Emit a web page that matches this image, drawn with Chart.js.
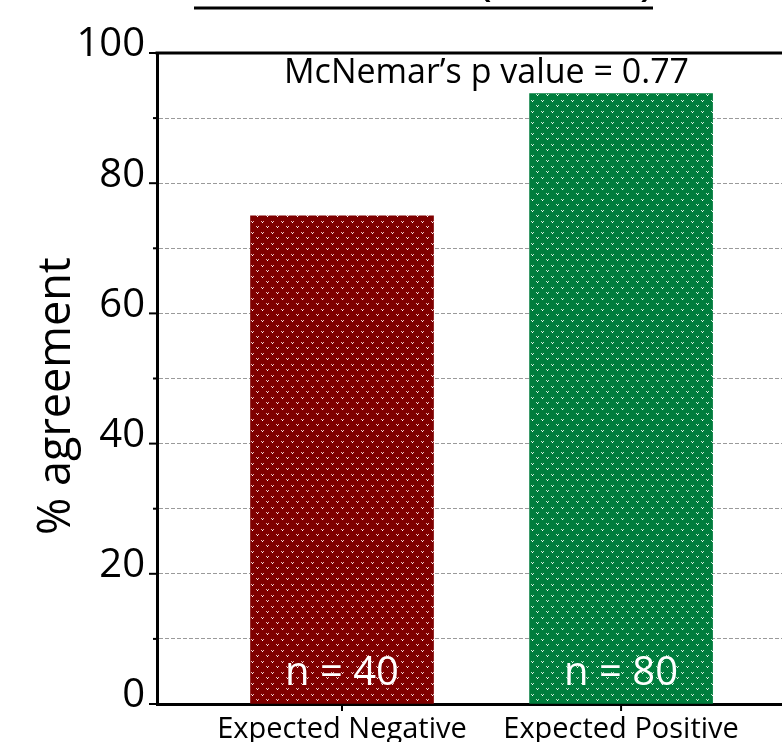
<!DOCTYPE html>
<html>
<head>
<meta charset="utf-8">
<script src="https://cdn.jsdelivr.net/npm/chart.js@4/dist/chart.umd.min.js"></script>
<style>
  html, body { margin: 0; padding: 0; background: #fff; overflow: hidden; }
  #wrap { width: 782px; height: 742px; }
  canvas { display: block; }
</style>
</head>
<body>
<div id="wrap"><canvas id="c" width="782" height="742"></canvas></div>
<script>
// ---- data ----
const categories = ['Expected Negative', 'Expected Positive'];
const categoryPositions = [1, 2];
const agreementPct = [75, 93.75];
const sampleSizes = ['n = 40', 'n = 80'];
const annotationText = 'McNemar\u2019s p value = 0.77';
const titleText = 'Concordance (Test A)';
const yTickStep = 10;
const yLabelStep = 20;

const FONT = "'Open Sans', 'Noto Sans', sans-serif";
const GRID_COLOR = '#9a9a9a';
const GRID_DASH = [4, 2];

function makePattern(bg, dim, bright) {
  const t = document.createElement('canvas');
  t.width = 10; t.height = 11;
  const g = t.getContext('2d');
  g.fillStyle = bg; g.fillRect(0, 0, 10, 11);
  const mark = (x, y) => {
    g.fillStyle = dim; g.fillRect(x, y, 1, 1); g.fillRect(x + 2, y, 1, 1);
    g.fillStyle = bright; g.fillRect(x + 1, y + 1, 1, 1);
  };
  mark(1, 1); mark(6, 6);
  return g.createPattern(t, 'repeat');
}
const redPattern = makePattern('#7f0000', '#eab8b8', '#ffffff');
const greenPattern = makePattern('#007d3d', '#bfe6cc', '#ffffff');

const align = (p, w) => Math.round(p - w / 2) + w / 2;

const decorPlugin = {
  id: 'decor',
  afterDraw(chart) {
    const ctx = chart.ctx;
    const ca = chart.chartArea;
    const ys = chart.scales.y, xs = chart.scales.x;
    ctx.save();

    // clean the strip right of the plot area (no bars there) before extending the frame
    ctx.fillStyle = '#fff';
    ctx.fillRect(ca.right - 2, ca.top + 2, chart.width - ca.right + 2, ca.bottom - ca.top - 4);

    // extend the plot to the right edge of the picture (the plot continues past it)
    ctx.strokeStyle = GRID_COLOR;
    ctx.lineWidth = 1;
    ctx.setLineDash(GRID_DASH);
    ctx.lineDashOffset = (ca.right - 2 - ca.left) % (GRID_DASH[0] + GRID_DASH[1]);
    for (let v = ys.min + yTickStep; v < ys.max; v += yTickStep) {
      const y = align(ys.getPixelForValue(v), 1);
      ctx.beginPath(); ctx.moveTo(ca.right - 2, y); ctx.lineTo(chart.width, y); ctx.stroke();
    }
    ctx.setLineDash([]);
    ctx.strokeStyle = '#000';
    ctx.lineWidth = 3;
    const by = align(xs.top, 3);
    ctx.beginPath(); ctx.moveTo(ca.right - 2, by); ctx.lineTo(chart.width, by); ctx.stroke();

    // y tick marks (major longer, minor shorter)
    ctx.lineWidth = 2;
    for (let v = ys.min; v <= ys.max; v += yTickStep) {
      const y = ys.getPixelForValue(v);
      const len = (v % yLabelStep === 0) ? 8 : 4;
      ctx.beginPath(); ctx.moveTo(ca.left - len, y); ctx.lineTo(ca.left, y); ctx.stroke();
    }
    // x tick marks
    categoryPositions.forEach(p => {
      const x = xs.getPixelForValue(p);
      ctx.beginPath(); ctx.moveTo(x, ca.bottom); ctx.lineTo(x, ca.bottom + 7); ctx.stroke();
    });
    // top frame line
    ctx.lineWidth = 3;
    ctx.beginPath(); ctx.moveTo(ca.left - 1.5, ca.top); ctx.lineTo(chart.width, ca.top); ctx.stroke();

    // annotation
    const meta = chart.getDatasetMeta(0);
    ctx.fillStyle = '#000';
    ctx.font = '34px ' + FONT;
    ctx.textAlign = 'center';
    ctx.textBaseline = 'alphabetic';
    const midX = (meta.data[0].x + meta.data[1].x) / 2 + 5;
    ctx.fillText(annotationText, midX, ys.getPixelForValue(95.4));

    // n labels inside bars
    ctx.fillStyle = '#fff';
    ctx.font = '40px ' + FONT;
    meta.data.forEach((bar, i) => {
      ctx.fillText(sampleSizes[i], bar.x, ys.getPixelForValue(2.9));
    });

    // partially visible title with underline (cut off at the top)
    ctx.fillStyle = '#000';
    ctx.font = '52px ' + FONT;
    ctx.textAlign = 'right';
    ctx.fillText(titleText, 655, -6);
    ctx.lineWidth = 3;
    ctx.beginPath(); ctx.moveTo(194, 8); ctx.lineTo(653, 8); ctx.stroke();
    ctx.restore();
  }
};

new Chart(document.getElementById('c'), {
  type: 'bar',
  data: {
    datasets: [{
      data: categoryPositions.map((p, i) => ({ x: p, y: agreementPct[i] })),
      backgroundColor: [redPattern, greenPattern],
      borderWidth: 0,
      barThickness: 183
    }]
  },
  options: {
    responsive: false,
    devicePixelRatio: 1,
    animation: false,
    layout: { padding: { top: 53, left: 0, right: 20, bottom: 0 } },
    plugins: { legend: { display: false }, tooltip: { enabled: false } },
    scales: {
      x: {
        type: 'linear',
        offset: false,
        min: 0.337,
        max: 2.505,
        afterBuildTicks: s => { s.ticks = categoryPositions.map(v => ({ value: v })); },
        afterFit: s => { s.height = 38; },
        grid: { display: false, drawTicks: false, offset: false },
        border: { display: true, color: '#000', width: 3 },
        ticks: {
          autoSkip: false,
          maxRotation: 0,
          padding: 8,
          color: '#000',
          font: { family: FONT, size: 29 },
          callback: v => { const i = categoryPositions.indexOf(v); return i >= 0 ? categories[i] : ''; }
        }
      },
      y: {
        min: 0,
        max: 100,
        afterFit: s => { s.width = 157; },
        grid: {
          drawTicks: false,
          lineWidth: 1,
          color: c => (c.tick && (c.tick.value === 0 || c.tick.value === 100)) ? 'rgba(0,0,0,0)' : GRID_COLOR
        },
        border: { display: true, color: '#000', width: 3, dash: GRID_DASH },
        ticks: {
          stepSize: yTickStep,
          padding: 12,
          labelOffset: -8,
          color: '#000',
          font: { family: FONT, size: 40 },
          callback: v => (v % yLabelStep === 0 ? String(v) : '')
        },
        title: {
          display: true,
          text: '% agreement\u00a0\u00a0\u00a0',
          color: '#000',
          font: { family: FONT, size: 45 },
          padding: { top: 30, bottom: 0 }
        }
      }
    }
  },
  plugins: [decorPlugin]
});
</script>
</body>
</html>
